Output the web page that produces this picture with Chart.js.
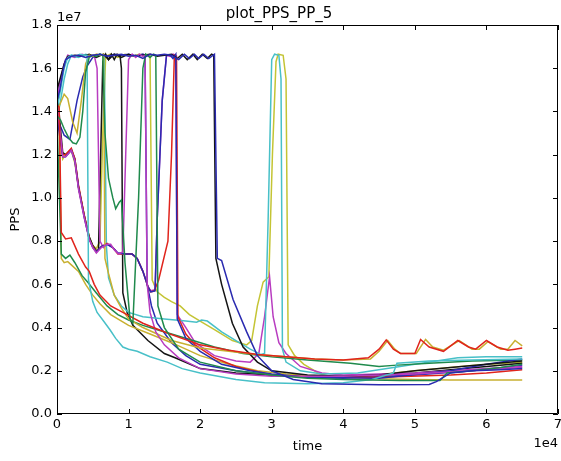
<!DOCTYPE html>
<html><head><meta charset="utf-8">
<script src="https://cdn.jsdelivr.net/npm/chart.js@4.4.0/dist/chart.umd.min.js"></script>
<style>html,body{margin:0;padding:0;background:#fff;}canvas{display:block;}</style>
</head><body>
<canvas id="c" width="561" height="461"></canvas>
<script>
// time in units of 1e4, PPS in units of 1e7
const xTicks = [0,1,2,3,4,5,6,7];
const yTicks = [0,0.2,0.4,0.6,0.8,1.0,1.2,1.4,1.6,1.8];

const blueA = [[0,1.45],[0.04,1.5],[0.08,1.58],[0.12,1.64],[0.2,1.655],[0.3,1.66],[0.4,1.65],[0.5,1.66],[0.6,1.665],[0.7,1.655],[0.8,1.66],[0.9,1.665],[1.0,1.655],[1.1,1.66],[1.2,1.645],[1.3,1.665],[1.4,1.66],[1.5,1.665],[1.6,1.66],[1.7,1.64],[1.78,1.665],[1.85,1.645],[1.92,1.665],[1.98,1.645],[2.05,1.665],[2.12,1.645],[2.2,1.665],[2.24,0.72],[2.3,0.71],[2.46,0.53],[2.65,0.38],[2.8,0.27],[3.0,0.2],[3.3,0.16],[3.7,0.14],[4.5,0.135],[5.2,0.137],[5.3,0.15],[5.5,0.19],[5.8,0.2],[6.2,0.205],[6.5,0.21]];
const greenA = [[0,1.38],[0.05,1.36],[0.1,1.32],[0.16,1.28],[0.22,1.255],[0.27,1.25],[0.32,1.28],[0.36,1.4],[0.4,1.58],[0.45,1.65],[0.5,1.66],[0.55,1.655],[0.6,1.665],[0.64,1.66],[0.67,1.3],[0.72,1.09],[0.78,1.0],[0.82,0.95],[0.87,0.98],[0.9,0.99],[0.95,0.7],[1.02,0.44],[1.06,0.42],[1.14,1.0],[1.2,1.6],[1.24,1.665],[1.3,1.65],[1.35,1.665],[1.38,1.66],[1.41,0.5],[1.5,0.4],[1.7,0.3],[2.0,0.24],[2.5,0.2],[3.0,0.18],[3.5,0.165],[4.0,0.16],[4.8,0.155],[5.35,0.155],[5.45,0.19],[5.8,0.2],[6.2,0.215],[6.5,0.23]];
const redA = [[0,1.43],[0.03,1.42],[0.06,0.84],[0.12,0.81],[0.2,0.815],[0.3,0.74],[0.4,0.68],[0.45,0.66],[0.52,0.6],[0.6,0.55],[0.75,0.5],[0.92,0.47],[1.2,0.42],[1.54,0.375],[2.0,0.32],[2.4,0.295],[2.8,0.275],[3.2,0.265],[3.6,0.255],[4.0,0.25],[4.35,0.26],[4.5,0.3],[4.6,0.343],[4.7,0.3],[4.8,0.28],[5.0,0.28],[5.08,0.345],[5.2,0.31],[5.4,0.29],[5.6,0.34],[5.75,0.31],[5.85,0.3],[6.0,0.34],[6.15,0.31],[6.3,0.295],[6.4,0.3],[6.5,0.305]];
const cyanA = [[0,1.41],[0.05,1.5],[0.1,1.6],[0.15,1.65],[0.2,1.66],[0.26,1.655],[0.32,1.665],[0.38,1.66],[0.42,1.66],[0.44,0.62],[0.5,0.52],[0.56,0.47],[0.65,0.43],[0.74,0.39],[0.82,0.35],[0.92,0.31],[1.0,0.3],[1.12,0.29],[1.3,0.265],[1.54,0.24],[1.75,0.21],[2.0,0.19],[2.5,0.16],[2.9,0.145],[3.5,0.14],[4.0,0.145],[4.4,0.16],[4.7,0.19],[4.75,0.235],[5.2,0.245],[5.8,0.25],[6.5,0.255]];
const magentaA = [[0,1.45],[0.04,1.32],[0.08,1.19],[0.12,1.19],[0.2,1.22],[0.25,1.17],[0.3,1.04],[0.38,0.91],[0.45,0.81],[0.5,0.77],[0.55,0.745],[0.62,0.77],[0.7,0.785],[0.75,0.785],[0.8,0.76],[0.86,0.74],[0.92,0.75],[0.96,1.2],[1.0,1.64],[1.05,1.665],[1.1,1.65],[1.15,1.665],[1.2,1.655],[1.23,1.66],[1.26,0.6],[1.3,0.47],[1.38,0.38],[1.5,0.32],[1.7,0.26],[2.0,0.21],[2.5,0.185],[3.0,0.175],[4.0,0.175],[5.0,0.185],[6.0,0.205],[6.5,0.215]];
const yellowA = [[0,1.4],[0.05,1.44],[0.1,1.48],[0.15,1.46],[0.22,1.35],[0.28,1.3],[0.34,1.45],[0.4,1.62],[0.45,1.66],[0.5,1.655],[0.55,1.665],[0.6,1.66],[0.65,1.665],[0.67,0.72],[0.72,0.65],[0.8,0.55],[0.9,0.49],[1.0,0.44],[1.2,0.4],[1.4,0.37],[1.6,0.34],[2.0,0.305],[2.4,0.29],[2.8,0.275],[3.2,0.265],[3.6,0.255],[4.0,0.25],[4.38,0.255],[4.5,0.29],[4.62,0.34],[4.72,0.3],[4.8,0.28],[5.02,0.28],[5.15,0.345],[5.25,0.31],[5.4,0.295],[5.62,0.34],[5.8,0.3],[5.9,0.3],[6.02,0.335],[6.2,0.3],[6.3,0.3],[6.4,0.34],[6.5,0.315]];
const blackA = [[0,1.5],[0.05,1.56],[0.1,1.62],[0.15,1.655],[0.25,1.66],[0.35,1.655],[0.45,1.665],[0.55,1.65],[0.65,1.665],[0.72,1.64],[0.8,1.665],[0.9,1.65],[1.0,1.665],[1.1,1.655],[1.2,1.66],[1.3,1.665],[1.4,1.655],[1.5,1.66],[1.6,1.665],[1.68,1.645],[1.75,1.665],[1.82,1.64],[1.9,1.665],[1.96,1.64],[2.03,1.665],[2.1,1.645],[2.16,1.665],[2.19,1.66],[2.22,0.72],[2.3,0.6],[2.45,0.42],[2.6,0.31],[2.8,0.24],[3.0,0.2],[3.5,0.18],[4.0,0.175],[4.5,0.18],[5.0,0.2],[5.5,0.215],[6.0,0.23],[6.5,0.245]];
const blueB = [[0,1.38],[0.04,1.28],[0.08,1.19],[0.12,1.19],[0.2,1.22],[0.25,1.17],[0.3,1.05],[0.38,0.91],[0.45,0.81],[0.5,0.77],[0.55,0.75],[0.62,0.775],[0.7,0.785],[0.78,0.77],[0.85,0.745],[0.95,0.74],[1.05,0.74],[1.12,0.72],[1.2,0.66],[1.27,0.59],[1.31,0.565],[1.37,0.57],[1.4,0.9],[1.47,1.45],[1.53,1.66],[1.58,1.66],[1.62,1.645],[1.66,1.665],[1.68,0.44],[1.8,0.35],[2.0,0.29],[2.3,0.23],[2.7,0.2],[3.0,0.185],[3.5,0.17],[4.5,0.165],[5.5,0.2],[6.0,0.23],[6.5,0.255]];
const greenB = [[0,1.35],[0.06,0.74],[0.12,0.72],[0.18,0.735],[0.25,0.7],[0.35,0.64],[0.43,0.61],[0.55,0.56],[0.7,0.5],[0.85,0.46],[1.0,0.435],[1.2,0.41],[1.4,0.39],[1.6,0.37],[1.9,0.34],[2.2,0.31],[2.6,0.28],[3.0,0.265],[3.5,0.25],[4.1,0.235],[4.5,0.22],[4.7,0.225],[5.2,0.235],[5.8,0.245],[6.5,0.25]];
const redB = [[0,1.42],[0.04,1.3],[0.08,1.2],[0.12,1.2],[0.2,1.23],[0.25,1.18],[0.3,1.06],[0.38,0.92],[0.45,0.81],[0.5,0.775],[0.55,0.75],[0.62,0.775],[0.7,0.79],[0.78,0.77],[0.85,0.74],[0.95,0.74],[1.05,0.74],[1.12,0.72],[1.2,0.66],[1.27,0.59],[1.31,0.565],[1.36,0.57],[1.42,0.62],[1.55,0.8],[1.6,1.2],[1.64,1.66],[1.67,1.655],[1.69,0.45],[1.8,0.37],[1.93,0.32],[2.2,0.26],[2.5,0.22],[3.0,0.18],[3.5,0.17],[4.5,0.17],[5.5,0.18],[6.0,0.19],[6.5,0.205]];
const cyanB = [[0,1.36],[0.05,1.45],[0.1,1.55],[0.15,1.62],[0.2,1.66],[0.3,1.65],[0.4,1.665],[0.5,1.655],[0.6,1.665],[0.66,1.66],[0.69,0.78],[0.72,0.63],[0.8,0.55],[0.9,0.5],[1.0,0.47],[1.2,0.45],[1.5,0.44],[1.8,0.43],[1.95,0.425],[2.02,0.435],[2.1,0.43],[2.3,0.38],[2.5,0.34],[2.7,0.3],[2.85,0.275],[2.9,0.28],[2.95,0.9],[3.0,1.64],[3.04,1.665],[3.1,1.66],[3.13,1.55],[3.15,0.3],[3.2,0.24],[3.4,0.2],[3.7,0.185],[4.2,0.19],[5.0,0.23],[5.6,0.26],[6.0,0.265],[6.5,0.265]];
const magentaB = [[0,1.46],[0.05,1.55],[0.1,1.62],[0.15,1.66],[0.25,1.65],[0.35,1.665],[0.45,1.655],[0.52,1.66],[0.56,1.6],[0.6,0.8],[0.65,0.77],[0.7,0.785],[0.78,0.77],[0.85,0.745],[0.95,0.74],[1.05,0.74],[1.12,0.72],[1.2,0.66],[1.27,0.59],[1.31,0.57],[1.37,0.575],[1.4,0.9],[1.47,1.45],[1.53,1.66],[1.58,1.655],[1.62,1.665],[1.66,1.66],[1.68,0.46],[1.8,0.4],[1.93,0.33],[2.2,0.27],[2.5,0.245],[2.7,0.24],[2.82,0.28],[2.9,0.45],[2.97,0.635],[3.02,0.45],[3.1,0.33],[3.2,0.28],[3.4,0.22],[3.7,0.19],[4.0,0.18],[5.0,0.19],[6.0,0.21],[6.5,0.22]];
const yellowB = [[0,1.4],[0.03,1.35],[0.06,0.72],[0.1,0.7],[0.15,0.705],[0.2,0.69],[0.3,0.66],[0.4,0.6],[0.5,0.55],[0.6,0.51],[0.75,0.46],[1.0,0.41],[1.3,0.37],[1.6,0.33],[2.0,0.27],[2.4,0.23],[2.8,0.2],[3.2,0.185],[3.6,0.175],[4.0,0.17],[4.5,0.163],[5.0,0.16],[5.5,0.157],[6.0,0.157],[6.5,0.157]];
const blackB = [[0,1.52],[0.04,1.35],[0.08,1.21],[0.12,1.2],[0.2,1.225],[0.25,1.18],[0.3,1.05],[0.38,0.92],[0.45,0.82],[0.5,0.78],[0.55,0.755],[0.58,0.76],[0.61,1.2],[0.64,1.63],[0.68,1.665],[0.72,1.64],[0.76,1.665],[0.8,1.64],[0.84,1.665],[0.88,1.66],[0.9,1.6],[0.92,0.56],[0.98,0.47],[1.06,0.41],[1.27,0.34],[1.5,0.28],[1.65,0.26],[2.0,0.21],[2.5,0.19],[3.0,0.18],[4.0,0.17],[5.0,0.19],[6.0,0.22],[6.5,0.235]];
const blueC = [[0,1.38],[0.05,1.33],[0.1,1.29],[0.18,1.27],[0.28,1.45],[0.36,1.56],[0.42,1.61],[0.5,1.65],[0.6,1.665],[0.7,1.655],[0.8,1.665],[0.9,1.66],[1.0,1.665],[1.1,1.655],[1.2,1.665],[1.23,1.66],[1.26,0.6],[1.32,0.5],[1.4,0.42],[1.6,0.33],[1.8,0.27],[2.0,0.23],[2.5,0.2],[3.0,0.18],[3.5,0.17],[4.0,0.165],[5.0,0.18],[5.8,0.2],[6.5,0.225]];
const yellowSpike = [[0,1.42],[0.04,1.3],[0.08,1.18],[0.12,1.2],[0.2,1.22],[0.25,1.16],[0.3,1.05],[0.38,0.92],[0.45,0.82],[0.5,0.78],[0.55,0.765],[0.6,0.8],[0.64,1.3],[0.68,1.655],[0.75,1.665],[0.85,1.65],[0.95,1.665],[1.05,1.655],[1.15,1.665],[1.25,1.66],[1.3,1.655],[1.33,0.62],[1.4,0.565],[1.5,0.54],[1.6,0.52],[1.72,0.5],[1.85,0.46],[2.0,0.43],[2.2,0.39],[2.45,0.34],[2.65,0.32],[2.72,0.34],[2.8,0.5],[2.88,0.61],[2.96,0.635],[3.01,1.2],[3.06,1.63],[3.09,1.665],[3.16,1.66],[3.2,1.55],[3.23,0.32],[3.32,0.27],[3.45,0.23],[3.65,0.19],[3.85,0.17],[4.3,0.175],[5.0,0.2],[5.8,0.225],[6.5,0.24]];

const C = {b:'#2a2ab0', g:'#1f8a4c', r:'#e0241c', c:'#48c0c8', m:'#b83cc0', y:'#c8b030', y2:'#c4c434', k:'#141414'};
const series = [
  [blueA,C.b],[greenA,C.g],[redA,C.r],[cyanA,C.c],[magentaA,C.m],[yellowA,C.y],[blackA,C.k],
  [blueB,C.b],[greenB,C.g],[redB,C.r],[cyanB,C.c],[magentaB,C.m],[yellowB,C.y],[blackB,C.k],
  [blueC,C.b],[yellowSpike,C.y2]
];

const FONT = '"DejaVu Sans", sans-serif';

const framePlugin = {
  id: 'frame',
  afterDatasetsDraw(chart) {
    const {ctx, chartArea: {left, right, top, bottom}, scales: {x, y}} = chart;
    ctx.save();
    ctx.strokeStyle = '#000';
    ctx.lineWidth = 1;
    ctx.beginPath();
    ctx.rect(Math.round(left) + 0.5, Math.round(top) + 0.5, Math.round(right - left) - 1, Math.round(bottom - top) - 1);
    ctx.stroke();
    ctx.beginPath();
    xTicks.forEach(v => {
      const px = Math.round(x.getPixelForValue(v)) + 0.5;
      ctx.moveTo(px, bottom); ctx.lineTo(px, bottom - 5);
      ctx.moveTo(px, top); ctx.lineTo(px, top + 5);
    });
    yTicks.forEach(v => {
      const py = Math.round(y.getPixelForValue(v)) + 0.5;
      ctx.moveTo(left, py); ctx.lineTo(left + 5, py);
      ctx.moveTo(right, py); ctx.lineTo(right - 5, py);
    });
    ctx.stroke();
    ctx.fillStyle = '#000';
    ctx.font = '13px ' + FONT;
    ctx.textBaseline = 'middle';
    ctx.textAlign = 'left';
    ctx.fillText('1e7', left, top - 7);
    ctx.textAlign = 'right';
    ctx.fillText('1e4', right, 444);
    ctx.restore();
  }
};

new Chart(document.getElementById('c'), {
  type: 'line',
  data: {
    datasets: series.map(([pts, col]) => ({
      data: pts.map(p => ({x: p[0], y: p[1]})),
      borderColor: col,
      borderWidth: 1.5,
      pointRadius: 0,
      tension: 0,
      fill: false
    }))
  },
  options: {
    responsive: false,
    animation: false,
    events: [],
    layout: {padding: {left: 0, right: 3, top: 0, bottom: 0}},
    plugins: {
      legend: {display: false},
      tooltip: {enabled: false},
      title: {display: true, text: 'plot_PPS_PP_5', color: '#000',
        font: {family: FONT, size: 15, weight: 'normal'}, padding: {top: 5, bottom: 2}}
    },
    scales: {
      x: {
        type: 'linear', min: 0, max: 7,
        afterBuildTicks: s => { s.ticks = xTicks.map(v => ({value: v})); },
        afterFit: s => { s.height = 47; s.paddingLeft = 0; s.paddingRight = 0; },
        grid: {display: false, drawTicks: false},
        border: {display: false},
        ticks: {color: '#000', font: {family: FONT, size: 13}, padding: 3, maxRotation: 0,
          callback: v => String(v)},
        title: {display: true, text: 'time', color: '#000', font: {family: FONT, size: 13}, padding: {top: 0, bottom: 7}}
      },
      y: {
        type: 'linear', min: 0, max: 1.8,
        afterBuildTicks: s => { s.ticks = yTicks.map(v => ({value: v})); },
        afterFit: s => { s.width = 57; },
        grid: {display: false, drawTicks: false},
        border: {display: false},
        ticks: {color: '#000', font: {family: FONT, size: 13}, padding: 5,
          callback: v => Number(v).toFixed(1)},
        title: {display: true, text: 'PPS', color: '#000', font: {family: FONT, size: 13}, padding: {top: 8, bottom: 0}}
      }
    }
  },
  plugins: [framePlugin]
});
</script>
</body></html>
